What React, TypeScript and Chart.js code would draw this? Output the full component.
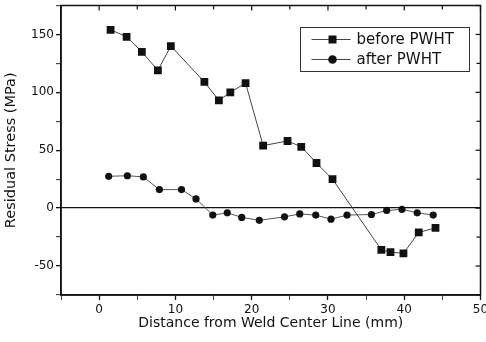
import React, { useEffect, useRef } from "react";
import { Chart, registerables } from "chart.js";

Chart.register(...registerables);

const beforeX = [1.5, 3.6, 5.6, 7.7, 9.4, 13.8, 15.7, 17.2, 19.2, 21.5, 24.7, 26.5, 28.5, 30.6, 37.0, 38.2, 39.9, 41.9, 44.1];
const beforeY = [154, 148, 135, 119, 140, 109, 93, 100, 108, 54, 58, 53, 39, 25, -36, -38, -39, -21, -17];
const afterX = [1.25, 3.7, 5.8, 7.9, 10.8, 12.7, 14.9, 16.8, 18.7, 21.0, 24.3, 26.3, 28.4, 30.4, 32.5, 35.7, 37.7, 39.7, 41.7, 43.8];
const afterY = [27.5, 28, 27, 16, 16, 8, -6, -4, -8, -10.5, -7.5, -5, -6, -9.5, -6, -5.5, -2, -1, -4, -6];
const seriesLabels = ["before PWHT", "after PWHT"];
const xTitle = "Distance from Weld Center Line (mm)";
const yTitle = "Residual Stress (MPa)";
const xMin = -5, xMax = 50, xStep = 5, xLabelStep = 10;
const yMin = -75, yMax = 175, yStep = 25, yLabelStep = 50;

const INK = "#111";
const FONT = "'DejaVu Sans', sans-serif";

const framePlugin = {
  id: "frameAndLegend",
  afterDraw(chart: any) {
    const { ctx, chartArea } = chart;
    const { left, right, top, bottom } = chartArea;
    const xs = chart.scales.x;
    const ys = chart.scales.y;
    ctx.save();
    ctx.strokeStyle = INK;
    ctx.lineWidth = 1.5;
    ctx.strokeRect(left, top, right - left, bottom - top);
    ctx.lineWidth = 1.2;
    xs.ticks.forEach((t: any) => {
      const px = xs.getPixelForValue(t.value);
      const len = t.value % xLabelStep === 0 ? 5 : 4;
      ctx.beginPath();
      ctx.moveTo(px, top);
      ctx.lineTo(px, top + len);
      ctx.stroke();
    });
    ys.ticks.forEach((t: any) => {
      const py = ys.getPixelForValue(t.value);
      const len = t.value % yLabelStep === 0 ? 5 : 4;
      ctx.beginPath();
      ctx.moveTo(right, py);
      ctx.lineTo(right - len, py);
      ctx.stroke();
    });
    const bw = 169, bh = 44;
    const bx = right - 11 - bw;
    const by = top + 22;
    ctx.lineWidth = 1;
    ctx.strokeStyle = "#333";
    ctx.strokeRect(bx, by, bw, bh);
    chart.data.datasets.forEach((ds: any, i: number) => {
      const ly = by + 12 + i * 20;
      ctx.strokeStyle = "#444";
      ctx.lineWidth = 1;
      ctx.beginPath();
      ctx.moveTo(bx + 11, ly);
      ctx.lineTo(bx + 50, ly);
      ctx.stroke();
      ctx.fillStyle = INK;
      ctx.beginPath();
      if (ds.pointStyle === "rect") {
        ctx.rect(bx + 32 - 4, ly - 4, 8, 8);
      } else {
        ctx.arc(bx + 32, ly, 4.3, 0, Math.PI * 2);
      }
      ctx.fill();
      ctx.font = `15px ${FONT}`;
      ctx.textBaseline = "middle";
      ctx.textAlign = "left";
      ctx.fillText(ds.label, bx + 56, ly + 1);
    });
    ctx.restore();
  },
};

export default function App() {
  const ref = useRef<HTMLCanvasElement | null>(null);
  useEffect(() => {
    document.body.style.margin = "0";
    const canvas = ref.current;
    if (!canvas) return;
    const chart = new Chart(canvas, {
      type: "scatter",
      data: {
        datasets: [
          {
            label: seriesLabels[0],
            data: beforeX.map((x, i) => ({ x, y: beforeY[i] })),
            showLine: true,
            borderColor: "#444",
            borderWidth: 1,
            backgroundColor: INK,
            pointStyle: "rect",
            pointRadius: 5.5,
            pointBorderWidth: 0,
            pointBackgroundColor: INK,
          },
          {
            label: seriesLabels[1],
            data: afterX.map((x, i) => ({ x, y: afterY[i] })),
            showLine: true,
            borderColor: "#555",
            borderWidth: 1,
            backgroundColor: INK,
            pointStyle: "circle",
            pointRadius: 3.6,
            pointBorderWidth: 0,
            pointBackgroundColor: INK,
          },
        ],
      },
      options: {
        animation: false,
        responsive: false,
        devicePixelRatio: 1,
        layout: { padding: { top: 4, right: 4, left: 0, bottom: 0 } },
        plugins: { legend: { display: false }, tooltip: { enabled: false } },
        scales: {
          x: {
            type: "linear",
            min: xMin,
            max: xMax,
            ticks: {
              stepSize: xStep,
              autoSkip: false,
              maxRotation: 0,
              color: INK,
              padding: 3,
              font: { family: FONT, size: 12 },
              callback: (v: any) => (v % xLabelStep === 0 ? String(v) : ""),
            },
            grid: {
              drawOnChartArea: false,
              drawTicks: true,
              tickLength: 5,
              tickColor: INK,
              tickWidth: (c: any) => (c.tick && c.tick.value % xLabelStep === 0 ? 1.3 : 0.8),
            },
            border: { color: INK, width: 1.5 },
            title: { display: true, text: xTitle, color: INK, font: { family: FONT, size: 14 }, padding: 10 },
            afterFit: (s: any) => {
              s.height = 47;
              s.paddingLeft = 0;
              s.paddingRight = 0;
            },
          },
          y: {
            type: "linear",
            min: yMin,
            max: yMax,
            ticks: {
              stepSize: yStep,
              autoSkip: false,
              color: INK,
              padding: 2,
              font: { family: FONT, size: 12 },
              callback: (v: any) => (v % yLabelStep === 0 ? String(v) : ""),
            },
            grid: {
              drawOnChartArea: true,
              drawTicks: true,
              tickLength: 5,
              tickColor: INK,
              tickWidth: (c: any) => (c.tick && c.tick.value % yLabelStep === 0 ? 1.3 : 0.9),
              lineWidth: 1.3,
              color: (c: any) => (c.tick && c.tick.value === 0 ? INK : "rgba(0,0,0,0)"),
            },
            border: { color: INK, width: 1.5 },
            title: { display: true, text: yTitle, color: INK, font: { family: FONT, size: 14.5 }, padding: 3 },
            afterFit: (s: any) => {
              s.width = 61;
              s.paddingTop = 0;
              s.paddingBottom = 0;
            },
          },
        },
      },
      plugins: [framePlugin],
    } as any);
    return () => chart.destroy();
  }, []);
  return (
    <div style={{ width: 486, height: 342 }}>
      <canvas ref={ref} width={486} height={342} style={{ display: "block" }} />
    </div>
  );
}
